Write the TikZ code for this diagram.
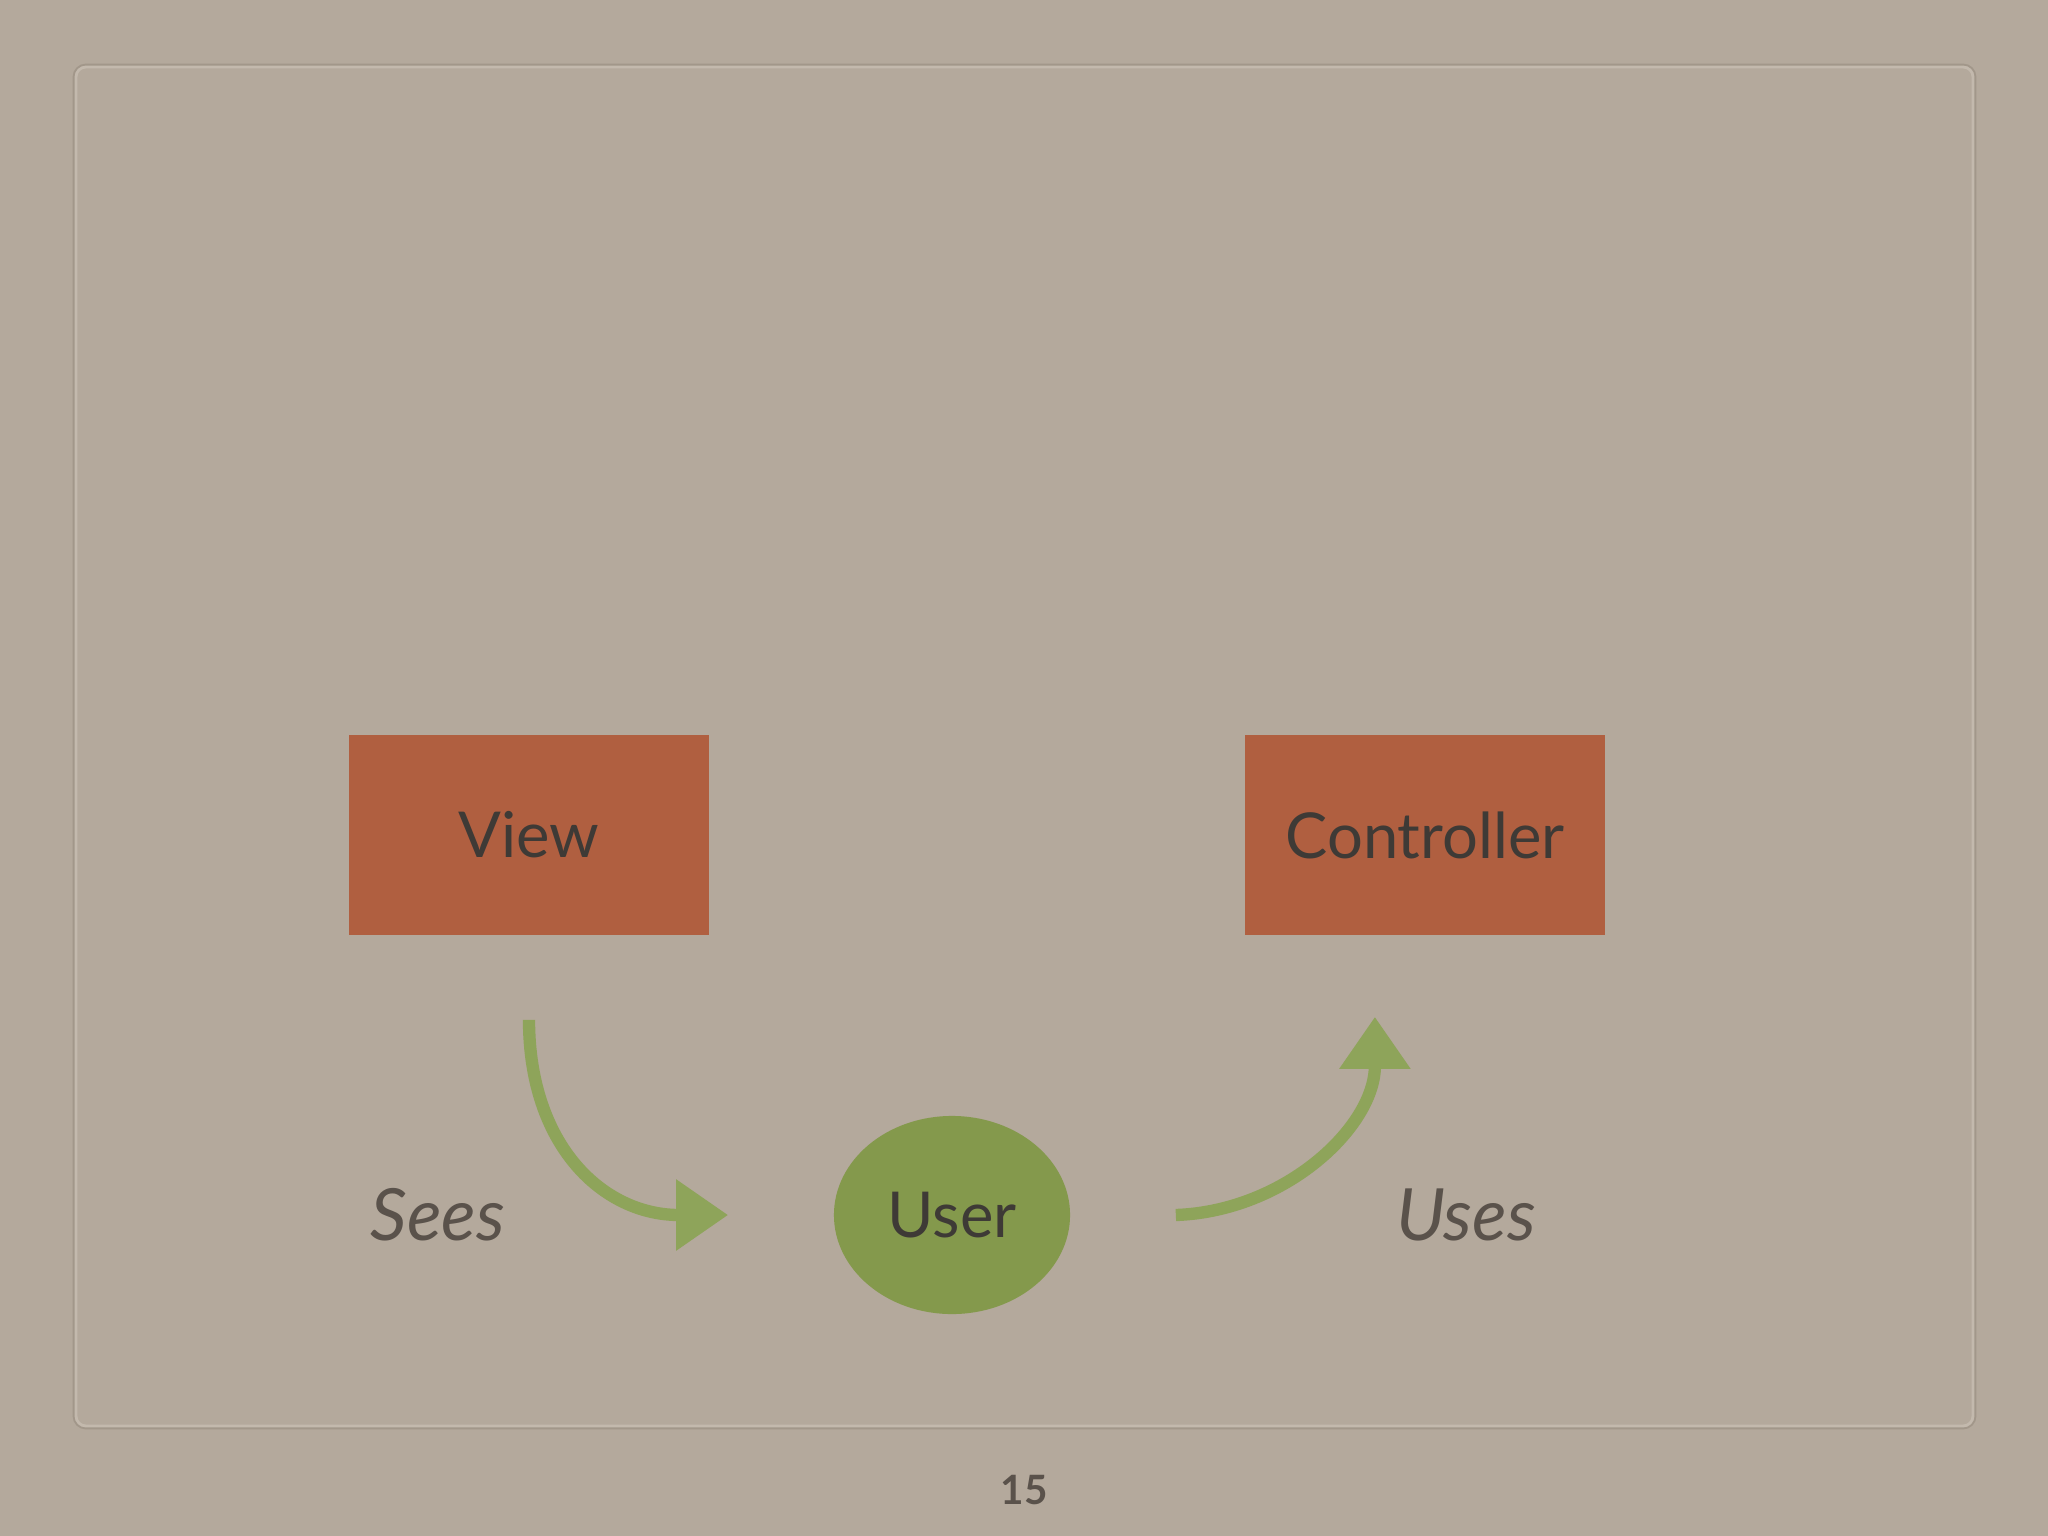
\documentclass[tikz,border=0pt]{standalone}
\usepackage{fontspec}
\setmainfont{Lato}
\usetikzlibrary{positioning,arrows.meta,shapes.geometric}
\definecolor{paper}{HTML}{B4A99C}
\definecolor{frameline}{HTML}{A2978A}
\definecolor{framelight}{HTML}{C3B9AD}
\definecolor{rust}{HTML}{B05F40}
\definecolor{olive}{HTML}{84994C}
\definecolor{chalk}{HTML}{8EA45A}
\definecolor{ink}{HTML}{3E3A36}
\definecolor{labelink}{HTML}{5A524B}
\begin{document}
\begin{tikzpicture}[x=0.01cm,y=-0.01cm,
  box/.style={rectangle,fill=rust,minimum width=3.6cm,minimum height=2cm,text=ink,font=\fontsize{18}{22}\selectfont},
  person/.style={ellipse,fill=olive,minimum width=2.36cm,minimum height=1.98cm,inner sep=0pt,text=ink,font=\fontsize{18}{22}\selectfont},
  verb/.style={text=labelink,font=\fontsize{20.5}{24}\selectfont\itshape},
  flow/.style={draw=chalk,line width=3.5pt,-{Triangle[length=0.52cm,width=0.68cm]}}]
\fill[paper] (0,0) rectangle (2048,1536);
\draw[frameline,line width=0.8pt,rounded corners=0.12cm] (74,65) rectangle (1975,1428);
\draw[framelight,line width=0.8pt,rounded corners=0.1cm] (76,67) rectangle (1973,1426);
\node[box] (View) at (529,835) {View};
\node[box,right=5.34cm of View] (Controller) {Controller};
\node[person] (User) at (952,1215) {User};
\node[verb] (Sees) at (438,1215) {Sees};
\node[verb] (Uses) at (1466,1215) {Uses};
\node[font=\fontsize{11.5}{13}\selectfont\bfseries,text=labelink] (page) at (1024,1490) {15};
\coordinate[below=0.84cm of View] (sees start);
\coordinate[left=1.05cm of User] (sees end);
\draw[flow] (sees start) to[out=-90,in=180,looseness=1.15] (sees end);
\coordinate[right=1.05cm of User] (uses start);
\coordinate (uses end) at ([xshift=-0.5cm,yshift=-0.81cm]Controller.south);
\draw[flow] (uses start) to[out=2,in=-90] (uses end);
\end{tikzpicture}
\end{document}
